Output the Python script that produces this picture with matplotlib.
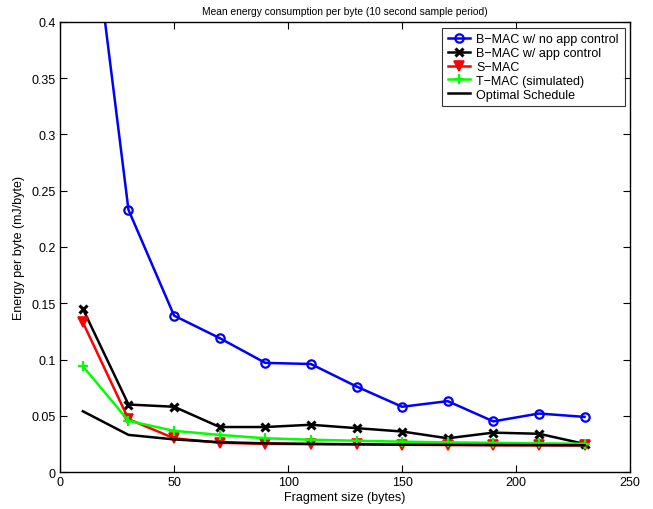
import matplotlib
matplotlib.use("Agg")
import matplotlib.pyplot as plt

plt.rcParams['font.family'] = ['Liberation Sans', 'DejaVu Sans']

fragment_size = [10, 30, 50, 70, 90, 110, 130, 150, 170, 190, 210, 230]
bmac_no_ctrl = [0.558, 0.233, 0.139, 0.119, 0.097, 0.096, 0.076, 0.058, 0.063, 0.045, 0.052, 0.049]
bmac_ctrl = [0.145, 0.060, 0.058, 0.040, 0.040, 0.042, 0.039, 0.036, 0.030, 0.035, 0.034, 0.025]
smac = [0.133, 0.047, 0.030, 0.026, 0.025, 0.0248, 0.0245, 0.0242, 0.024, 0.0238, 0.0237, 0.0236]
tmac = [0.094, 0.0455, 0.0366, 0.033, 0.030, 0.0287, 0.0278, 0.027, 0.0263, 0.026, 0.0254, 0.0252]
optimal = [0.054, 0.033, 0.029, 0.0265, 0.0255, 0.025, 0.0247, 0.0244, 0.0242, 0.024, 0.0239, 0.0238]

labels = ['B\u2212MAC w/ no app control', 'B\u2212MAC w/ app control', 'S\u2212MAC',
          'T\u2212MAC (simulated)', 'Optimal Schedule']

fig = plt.figure(figsize=(6.53, 5.10), dpi=100)
ax = fig.add_axes([0.092, 0.0725, 0.873, 0.8825])

lw = 1.8
ax.plot(fragment_size, bmac_no_ctrl, color='#0000ff', lw=lw, marker='o', ms=6,
        mfc='none', mew=1.6, label=labels[0])
ax.plot(fragment_size, bmac_ctrl, color='black', lw=lw, marker='x', ms=6,
        mew=2.2, label=labels[1])
ax.plot(fragment_size, smac, color='#ff0000', lw=lw, marker='v', ms=6.5,
        mfc='#ff0000', mew=1.2, label=labels[2])
ax.plot(fragment_size, tmac, color='#00ff00', lw=lw, marker='+', ms=7,
        mew=1.6, label=labels[3])
ax.plot(fragment_size, optimal, color='black', lw=lw, label=labels[4])

ax.set_xlim(0, 250)
ax.set_ylim(0, 0.4)
ax.set_xticks([0, 50, 100, 150, 200, 250])
ax.set_yticks([0, 0.05, 0.1, 0.15, 0.2, 0.25, 0.3, 0.35, 0.4])
ax.set_yticklabels(['0', '0.05', '0.1', '0.15', '0.2', '0.25', '0.3', '0.35', '0.4'])
ax.tick_params(direction='in', top=True, right=True, labelsize=9, length=5, width=0.8, pad=3)
for s in ax.spines.values():
    s.set_linewidth(1.0)

ax.set_title('Mean energy consumption per byte (10 second sample period)', fontsize=7.4, pad=6)
ax.set_xlabel('Fragment size (bytes)', fontsize=9, labelpad=2)
ax.set_ylabel('Energy per byte (mJ/byte)', fontsize=9, labelpad=5)

leg = ax.legend(loc='upper right', fontsize=9, frameon=True, fancybox=False,
                edgecolor='black', borderpad=0.45, labelspacing=0.15,
                handlelength=1.75, handletextpad=0.55, borderaxespad=0.45)
leg.get_frame().set_linewidth(0.8)

fig.savefig('out.png', dpi=100)
